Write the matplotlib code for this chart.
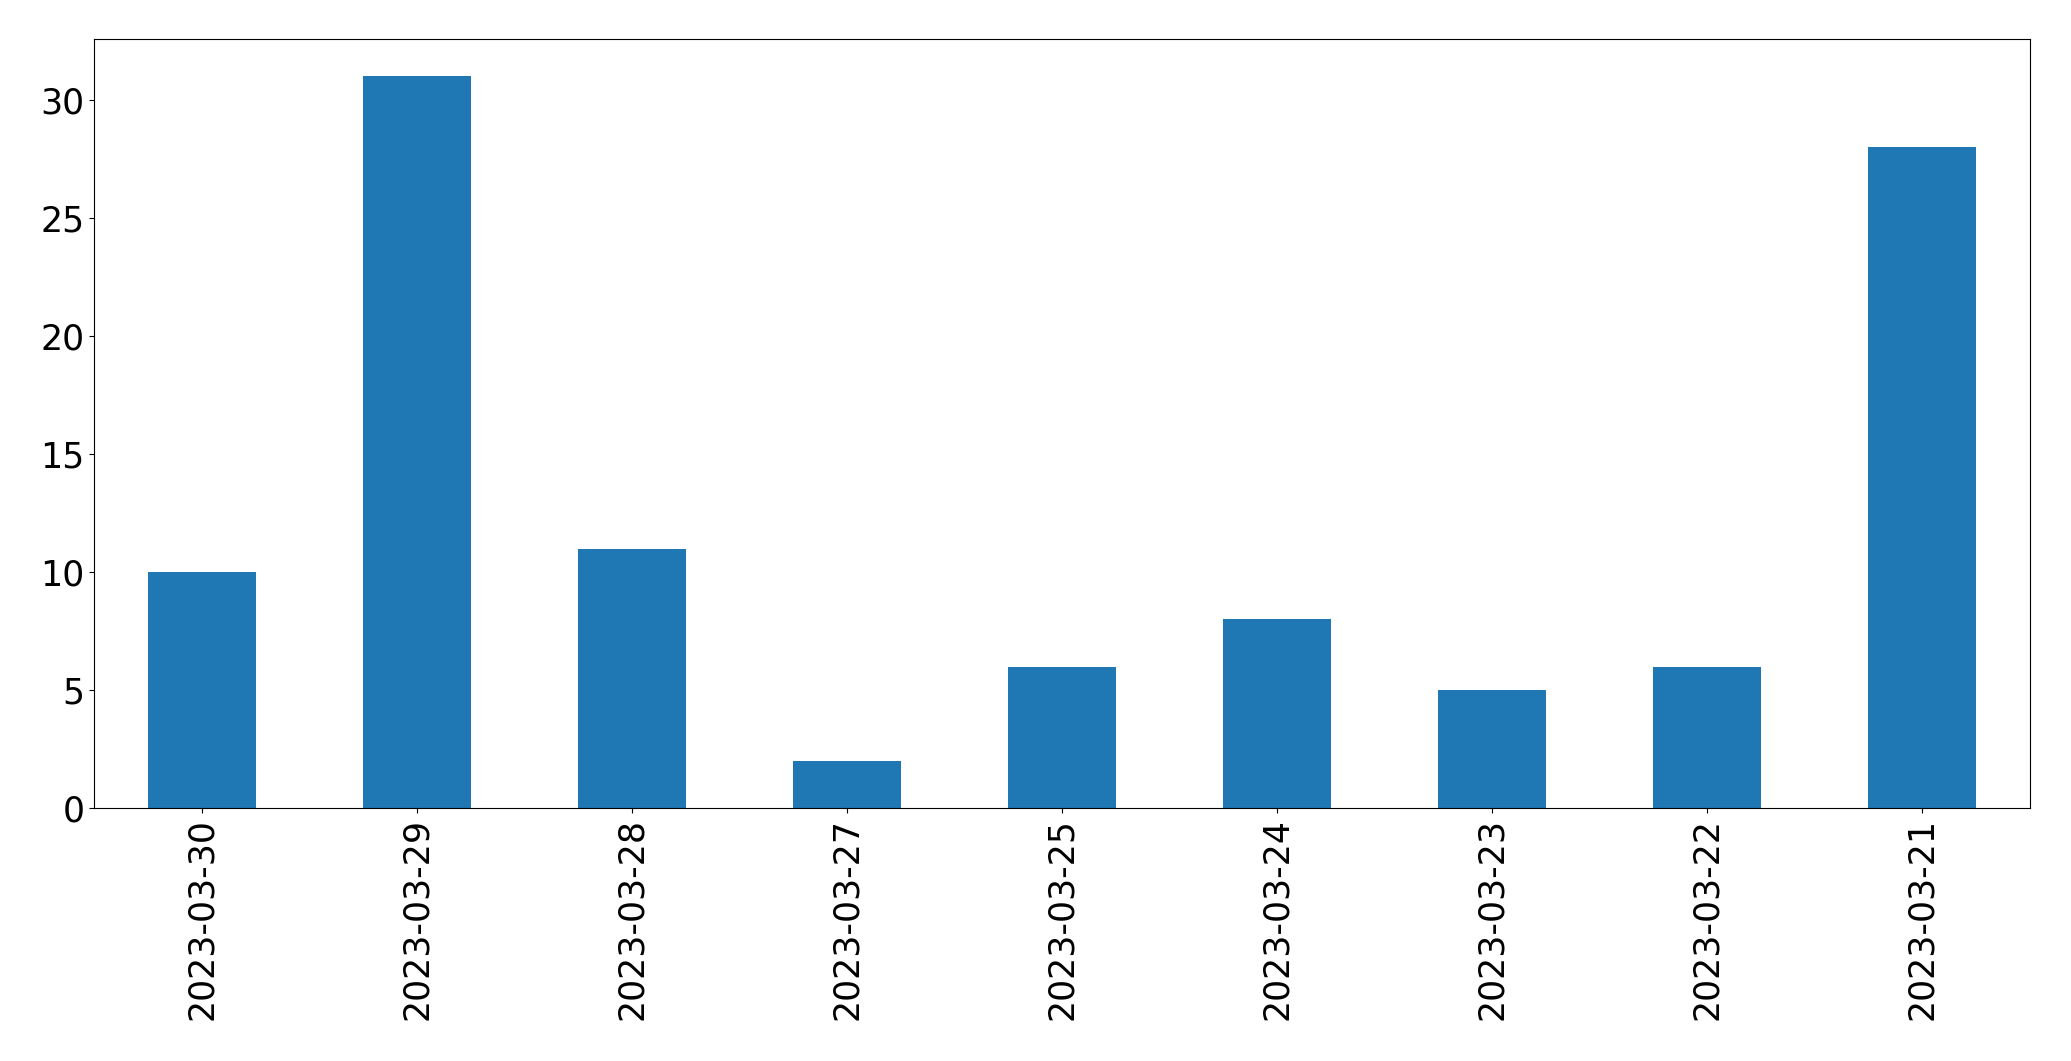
import matplotlib
matplotlib.use("Agg")
import matplotlib.pyplot as plt
import numpy as np

dates = ["2023-03-30", "2023-03-29", "2023-03-28", "2023-03-27", "2023-03-25",
         "2023-03-24", "2023-03-23", "2023-03-22", "2023-03-21"]
counts = [10, 31, 11, 2, 6, 8, 5, 6, 28]

fig = plt.figure(figsize=(20.71, 10.61), dpi=100)
ax = fig.add_axes([0.0455, 0.238, 0.9345, 0.725])
x = np.arange(len(dates))
ax.bar(x, counts, width=0.5, color="#1f77b4")
ax.set_xlim(-0.5, len(dates) - 0.5)
ax.set_xticks(x)
ax.set_xticklabels(dates, rotation=90)
ax.tick_params(labelsize=25)
fig.savefig("out.png", dpi=100)
